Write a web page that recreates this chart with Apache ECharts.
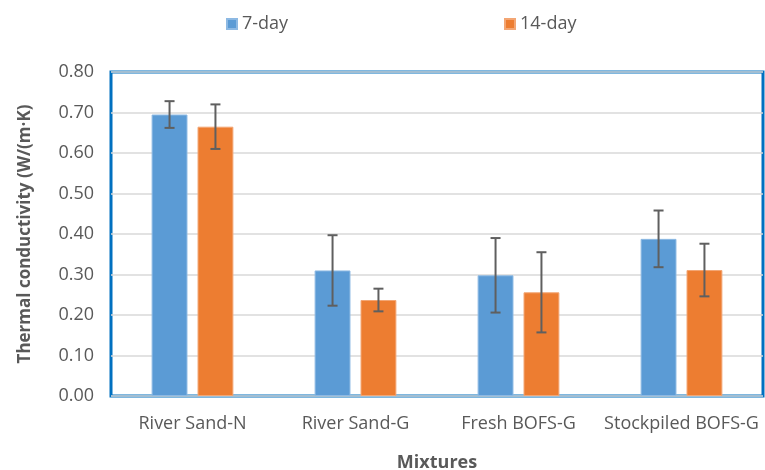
<!DOCTYPE html>
<html>
<head>
<meta charset="utf-8">
<script src="https://cdn.jsdelivr.net/npm/echarts@6/dist/echarts.min.js"></script>
<style>
  html, body { margin: 0; padding: 0; background: #fff; }
  #chart { width: 765px; height: 470px; }
</style>
</head>
<body>
<div id="chart"></div>
<script>
// data
const mixtures = ['River Sand-N', 'River Sand-G', 'Fresh BOFS-G', 'Stockpiled BOFS-G']
const day7 = [0.695, 0.310, 0.298, 0.388]
const day7Err = [0.033, 0.087, 0.092, 0.070]
const day14 = [0.665, 0.237, 0.256, 0.311]
const day14Err = [0.055, 0.028, 0.099, 0.065]

const FONT = 'Open Sans'
const BAR_W = 0.22   // fraction of category band
const BAR_GAP = 0.28 // fraction of bar width

// error bar drawer, side = -1 for the left bar, +1 for the right bar
const errorBars = (side) => (params, api) => {
  const x = api.value(0)
  const lo = api.coord([x, api.value(1)])
  const hi = api.coord([x, api.value(2)])
  const band = api.size([1, 0])[0]
  const bw = band * BAR_W
  const cx = lo[0] + side * (bw + bw * BAR_GAP) / 2
  const cap = 5
  const style = { stroke: '#5f5f5f', lineWidth: 2 }
  return {
    type: 'group',
    children: [
      { type: 'line', shape: { x1: cx, y1: hi[1], x2: cx, y2: lo[1] }, style },
      { type: 'line', shape: { x1: cx - cap, y1: hi[1], x2: cx + cap, y2: hi[1] }, style },
      { type: 'line', shape: { x1: cx - cap, y1: lo[1], x2: cx + cap, y2: lo[1] }, style }
    ]
  }
}

const errData = (vals, errs) => vals.map((v, i) => [i, v - errs[i], v + errs[i]])

const legendText = { fontFamily: FONT, fontSize: 18, color: '#595959' }

const chart = echarts.init(document.getElementById('chart'))
chart.setOption({
  animation: false,
  textStyle: { fontFamily: FONT },
  legend: [
    { data: ['7-day'], left: 221, top: 10, itemWidth: 10, itemHeight: 10, itemGap: 6, icon: 'rect', textStyle: legendText },
    { data: ['14-day'], left: 499, top: 10, itemWidth: 10, itemHeight: 10, itemGap: 6, icon: 'rect', textStyle: legendText }
  ],
  grid: {
    left: 111, right: 2, top: 72, bottom: 74,
    outerBoundsMode: 'none',
    show: true, borderColor: '#0070C0', borderWidth: 3
  },
  xAxis: {
    type: 'category',
    data: mixtures,
    axisLine: { show: false },
    axisTick: { show: false },
    axisLabel: { interval: 0, fontFamily: FONT, fontSize: 18, color: '#595959', margin: 19 },
    name: 'Mixtures',
    nameLocation: 'middle',
    nameGap: 58,
    nameTextStyle: { fontFamily: FONT, fontSize: 18, fontWeight: 'bold', color: '#595959' }
  },
  yAxis: {
    type: 'value',
    min: 0, max: 0.8, interval: 0.1,
    axisLine: { show: false },
    axisTick: { show: false },
    axisLabel: {
      fontFamily: FONT, fontSize: 18, color: '#595959', margin: 17,
      formatter: v => v.toFixed(2)
    },
    splitLine: { lineStyle: { color: '#d9d9d9', width: 1.5 } },
    name: 'Thermal conductivity (W/(m·K)',
    nameLocation: 'middle',
    nameGap: 77,
    nameTextStyle: { fontFamily: FONT, fontSize: 17, fontWeight: 'bold', color: '#595959' }
  },
  series: [
    {
      name: '7-day', type: 'bar', data: day7,
      barWidth: (BAR_W * 100) + '%', barGap: (BAR_GAP * 100) + '%',
      itemStyle: { color: '#5B9BD5', borderColor: '#8db9e3', borderWidth: 1 }
    },
    {
      name: '14-day', type: 'bar', data: day14,
      barWidth: (BAR_W * 100) + '%',
      itemStyle: { color: '#ED7D31', borderColor: '#f3a674', borderWidth: 1 }
    },
    {
      type: 'custom', renderItem: errorBars(-1), data: errData(day7, day7Err),
      encode: { x: 0, y: [1, 2] }, z: 10, silent: true
    },
    {
      type: 'custom', renderItem: errorBars(1), data: errData(day14, day14Err),
      encode: { x: 0, y: [1, 2] }, z: 10, silent: true
    }
  ]
})
</script>
</body>
</html>
